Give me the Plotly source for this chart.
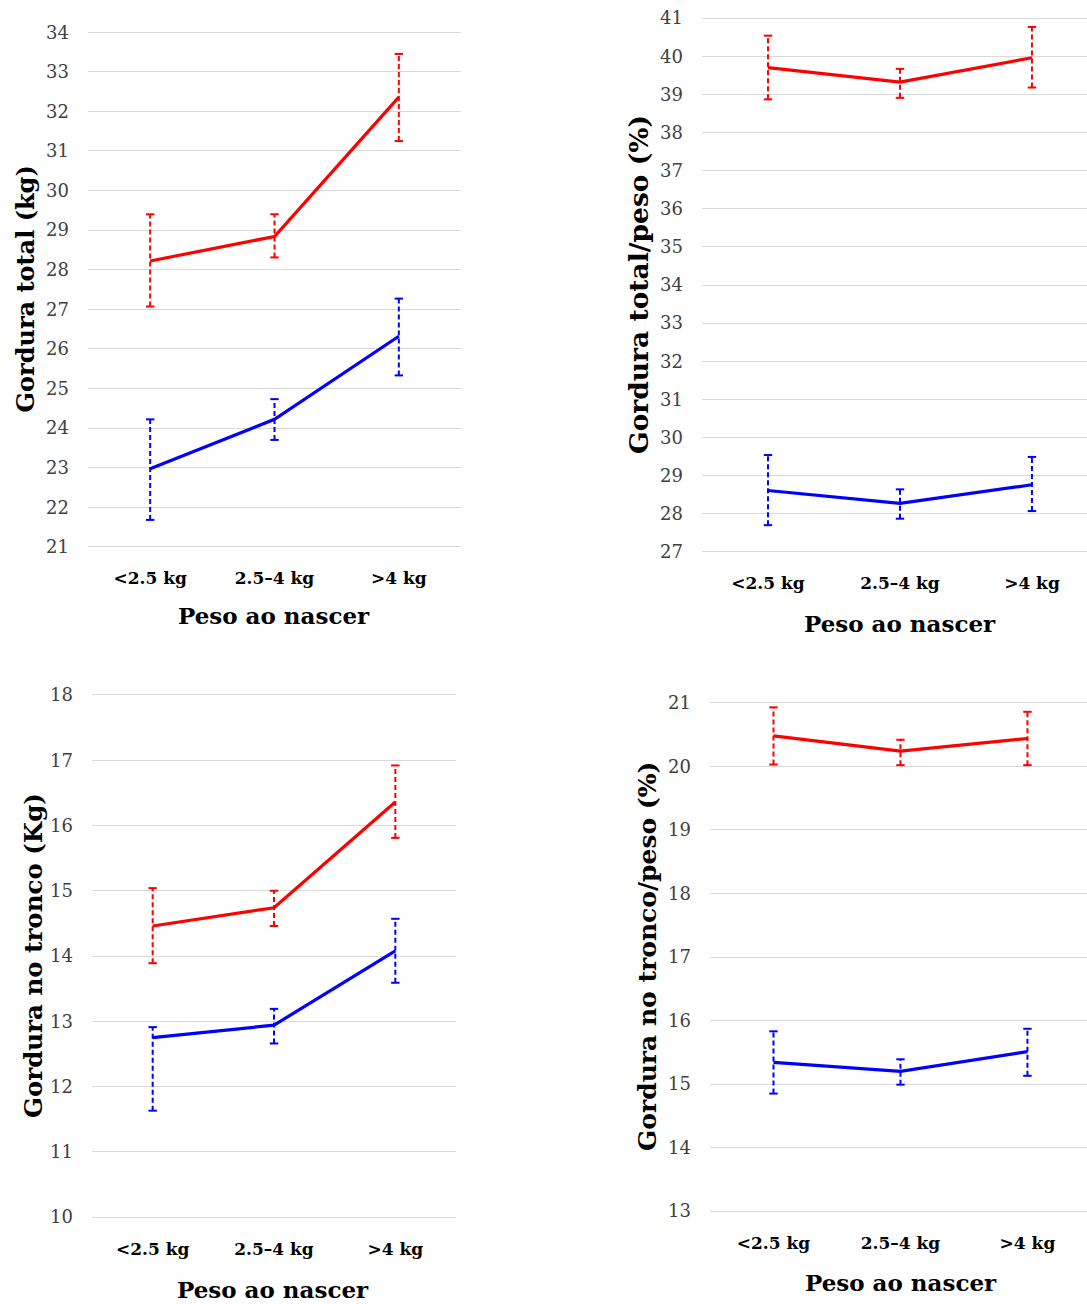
import plotly.graph_objects as go

categories = ["<2.5 kg", "2.5–4 kg", ">4 kg"]

# Panel 1: Gordura total (kg)
tot_red = [28.22, 28.84, 32.36]
tot_red_lo = [27.07, 28.31, 31.25]
tot_red_hi = [29.40, 29.40, 33.45]
tot_blue = [22.97, 24.22, 26.32]
tot_blue_lo = [21.68, 23.70, 25.33]
tot_blue_hi = [24.22, 24.73, 27.27]

# Panel 2: Gordura total/peso (%)
pct_red = [39.70, 39.32, 39.96]
pct_red_lo = [38.87, 38.91, 39.18]
pct_red_hi = [40.54, 39.67, 40.77]
pct_blue = [28.61, 28.27, 28.76]
pct_blue_lo = [27.70, 27.87, 28.07]
pct_blue_hi = [29.54, 28.64, 29.49]

# Panel 3: Gordura no tronco (Kg)
trk_red = [14.46, 14.74, 16.36]
trk_red_lo = [13.89, 14.46, 15.81]
trk_red_hi = [15.04, 15.00, 16.92]
trk_blue = [12.75, 12.94, 14.08]
trk_blue_lo = [11.63, 12.66, 13.59]
trk_blue_hi = [12.91, 13.19, 14.57]

# Panel 4: Gordura no tronco/peso (%)
tp_red = [20.48, 20.24, 20.44]
tp_red_lo = [20.03, 20.02, 20.02]
tp_red_hi = [20.93, 20.42, 20.86]
tp_blue = [15.34, 15.20, 15.51]
tp_blue_lo = [14.85, 14.99, 15.13]
tp_blue_hi = [15.83, 15.39, 15.87]

y_titles = ["Gordura total (kg)", "Gordura total/peso (%)",
            "Gordura no tronco (Kg)", "Gordura no tronco/peso (%)"]
x_title = "Peso ao nascer"

W, H = 1087, 1304
RED = "#FF0000"
BLUE = "#0000FF"
SERIF = "DejaVu Serif"

panels = [
    dict(series=[(tot_red, tot_red_lo, tot_red_hi, RED), (tot_blue, tot_blue_lo, tot_blue_hi, BLUE)],
         px=(88, 461), py=(31, 548), yr=(21, 34), xr=(-0.5, 2.5),
         ytx=25, yts=24, xtc=(274, 615)),
    dict(series=[(pct_red, pct_red_lo, pct_red_hi, RED), (pct_blue, pct_blue_lo, pct_blue_hi, BLUE)],
         px=(702, 1087), py=(17, 553), yr=(27, 41), xr=(-0.5, 2.417),
         ytx=638, yts=26.5, xtc=(900, 623)),
    dict(series=[(trk_red, trk_red_lo, trk_red_hi, RED), (trk_blue, trk_blue_lo, trk_blue_hi, BLUE)],
         px=(92, 456), py=(693, 1219), yr=(10, 18), xr=(-0.5, 2.5),
         ytx=33, yts=24.5, xtc=(273, 1289)),
    dict(series=[(tp_red, tp_red_lo, tp_red_hi, RED), (tp_blue, tp_blue_lo, tp_blue_hi, BLUE)],
         px=(710, 1087), py=(701, 1213), yr=(13, 21), xr=(-0.5, 2.469),
         ytx=647, yts=25, xtc=(901, 1282)),
]

fig = go.Figure()
annotations = []
for i, p in enumerate(panels):
    n = "" if i == 0 else str(i + 1)
    xa, ya = "x" + n, "y" + n
    for vals, lo, hi, col in p["series"]:
        ex, ey = [], []
        for c, l, h in zip(categories, lo, hi):
            ex += [c, c, None]
            ey += [l, h, None]
        fig.add_trace(go.Scatter(x=ex, y=ey, mode="lines", xaxis=xa, yaxis=ya,
                                 line=dict(color=col, width=2, dash="5px,3px"),
                                 hoverinfo="skip", showlegend=False))
        fig.add_trace(go.Scatter(x=categories + categories, y=list(lo) + list(hi), mode="markers",
                                 xaxis=xa, yaxis=ya,
                                 marker=dict(symbol="line-ew-open", size=6, color=col,
                                             line=dict(color=col, width=2)),
                                 hoverinfo="skip", showlegend=False))
        fig.add_trace(go.Scatter(x=categories, y=vals, mode="lines", xaxis=xa, yaxis=ya,
                                 line=dict(color=col, width=3.2), showlegend=False))
    x0, x1 = p["px"]
    y0, y1 = p["py"]
    eps = 0.03
    fig.layout["xaxis" + n] = dict(
        domain=[x0 / W, x1 / W], anchor=ya, type="category",
        categoryorder="array", categoryarray=categories,
        range=list(p["xr"]), showgrid=False, zeroline=False, showline=False,
        ticks="", ticklabelstandoff=18, automargin=False,
        tickfont=dict(family=SERIF, size=17, color="#000000", weight="bold"))
    fig.layout["yaxis" + n] = dict(
        domain=[1 - y1 / H, 1 - y0 / H], anchor=xa,
        range=[p["yr"][0] - eps, p["yr"][1] + eps], dtick=1,
        showgrid=True, gridcolor="#D9D9D9", gridwidth=1.3, automargin=False,
        zeroline=False, showline=False, ticks="", ticklabelstandoff=18,
        tickfont=dict(family=SERIF, size=18, color="#404040"))
    annotations.append(dict(text=y_titles[i], xref="paper", yref="paper",
                            x=p["ytx"] / W, y=1 - ((y0 + y1) / 2) / H,
                            xanchor="center", yanchor="middle", textangle=-90, showarrow=False,
                            font=dict(family=SERIF, size=p["yts"], color="#000000", weight="bold")))
    annotations.append(dict(text=x_title, xref="paper", yref="paper",
                            x=p["xtc"][0] / W, y=1 - p["xtc"][1] / H,
                            xanchor="center", yanchor="middle", showarrow=False,
                            font=dict(family=SERIF, size=23, color="#000000", weight="bold")))

fig.update_layout(width=W, height=H, margin=dict(l=0, r=0, t=0, b=0, autoexpand=False),
                  paper_bgcolor="white", plot_bgcolor="white",
                  annotations=annotations, showlegend=False)

fig.write_html("out.html", config={"displayModeBar": False},
               post_script="document.body.style.margin='0';")
